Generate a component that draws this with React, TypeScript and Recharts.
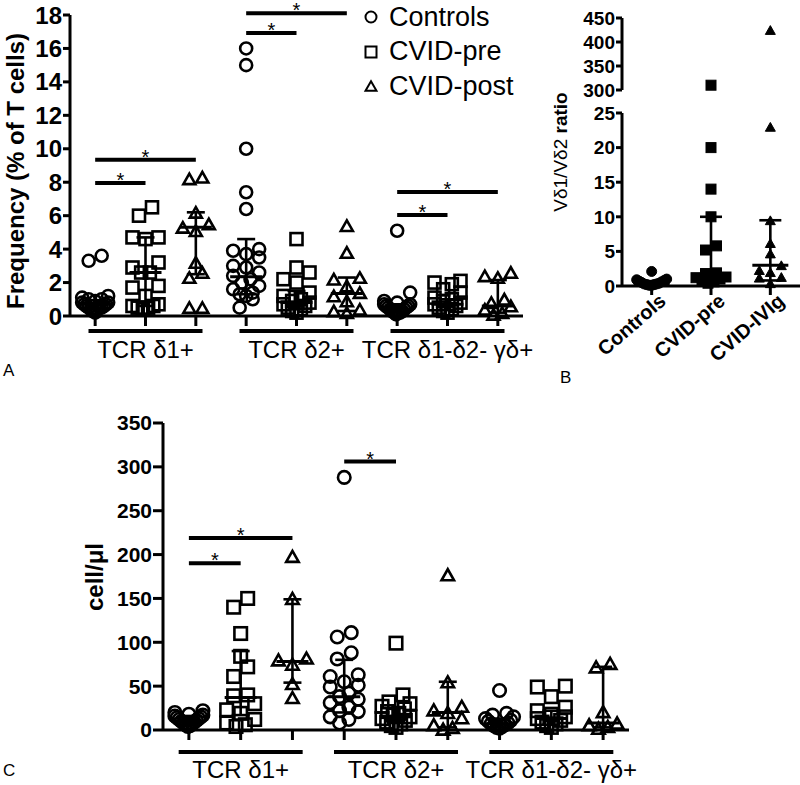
import React from 'react';
import { ScatterChart, Scatter, XAxis, YAxis, ErrorBar, ReferenceLine } from 'recharts';

const FONT = '"Liberation Sans", Arial, Helvetica, sans-serif';

// ---------- categories ----------
const cohortsA = ['Controls', 'CVID-pre', 'CVID-post'];
const cohortsB = ['Controls', 'CVID-pre', 'CVID-IVIg'];
const subsets = ['TCR δ1+', 'TCR δ2+', 'TCR δ1-δ2- γδ+'];
const colTicks = [0, 1, 2, 3, 4, 5, 6, 7, 8];

// ---------- Panel A : frequency (% of T cells) ----------
const freqCtrlD1 = [3.6, 3.3, 1.2, 1.1, 1.0, 1.0, 0.9, 0.8, 0.8, 0.7, 0.7, 0.6, 0.6, 0.5, 0.5, 0.5, 0.4, 0.4, 0.3, 0.2];
const freqPreD1 = [6.5, 6.0, 4.7, 4.7, 4.6, 3.2, 2.9, 2.6, 2.6, 1.8, 1.7, 1.2, 0.7, 0.6, 0.6, 0.5, 0.5, 0.4];
const freqPostD1 = [8.3, 8.2, 6.2, 5.5, 5.3, 5.1, 3.2, 2.6, 2.3, 0.5, 0.5];
const freqCtrlD2 = [16.0, 15.0, 10.0, 7.4, 6.4, 4.0, 3.9, 3.7, 3.5, 3.0, 2.9, 2.6, 2.4, 2.2, 2.0, 1.8, 1.6, 1.4, 1.3, 1.2, 1.0, 0.5];
const freqPreD2 = [4.6, 2.9, 2.6, 2.2, 2.0, 1.4, 1.2, 1.0, 0.9, 0.8, 0.7, 0.6, 0.5, 0.4, 0.3, 0.2];
const freqPostD2 = [5.4, 3.8, 2.3, 2.2, 1.8, 1.4, 1.2, 0.9, 0.4, 0.3, 0.2];
const freqCtrlD3 = [5.1, 1.4, 0.9, 0.8, 0.7, 0.7, 0.6, 0.6, 0.5, 0.5, 0.4, 0.4, 0.3, 0.3, 0.2, 0.2, 0.2, 0.1];
const freqPreD3 = [2.1, 2.0, 1.9, 1.6, 1.4, 1.1, 1.0, 0.9, 0.8, 0.7, 0.6, 0.5, 0.4, 0.3, 0.2];
const freqPostD3 = [2.6, 2.4, 2.3, 1.0, 0.8, 0.6, 0.4, 0.2, 0.1];
const medA = [0.7, 2.6, 5.3, 2.35, 0.8, 1.35, 0.4, 0.7, 0.6];
const q1A = [0.45, 0.6, 2.5, 1.3, 0.4, 0.3, 0.25, 0.35, 0.2];
const q3A = [0.95, 4.7, 6.2, 4.6, 1.5, 2.3, 0.7, 1.0, 2.15];
const ticksA = [0, 2, 4, 6, 8, 10, 12, 14, 16, 18];
const sigFromA = [0, 0, 3, 3, 6, 6];
const sigToA = [1, 2, 4, 5, 7, 8];
const sigYA = [7.95, 9.35, 16.93, 18.1, 6.04, 7.42];

// ---------- Panel B : Vd1/Vd2 ratio ----------
const ratioCtrl = [2.1, 1.0, 0.9, 0.8, 0.7, 0.6, 0.5, 0.4, 0.3, 0.3, 0.2, 0.2, 0.1, 0.1];
const ratioPre = [310, 20, 14, 10, 5.8, 5.2, 1.9, 1.8, 1.3, 1.2, 1.0, 0.8, 0.6, 0.4];
const ratioIVIg = [425, 23, 9.5, 6.2, 4.7, 3.0, 2.3, 2.0, 1.3, 1.2, 0.4];
const medB = [0.3, 1.3, 3.0];
const q1B = [0.15, 0.5, 0.8];
const q3B = [0.7, 10, 9.5];
const ticksBLow = [0, 5, 10, 15, 20, 25];
const ticksBHigh = [300, 350, 400, 450];

// ---------- Panel C : cells/ul ----------
const cellCtrlD1 = [22, 20, 18, 17, 16, 15, 14, 13, 12, 11, 10, 9, 8, 7, 6, 5, 4];
const cellPreD1 = [150, 140, 110, 84, 72, 61, 40, 39, 30, 23, 19, 12, 8, 6, 4];
const cellPostD1 = [198, 150, 82, 80, 75, 53, 37];
const cellCtrlD2 = [288, 111, 106, 88, 81, 63, 61, 55, 51, 49, 42, 38, 35, 31, 26, 22, 21, 15, 12, 8];
const cellPreD2 = [99, 40, 32, 30, 27, 24, 21, 19, 17, 15, 13, 11, 9, 7, 5, 3];
const cellPostD2 = [177, 55, 27, 23, 20, 14, 6, 3, 1];
const cellCtrlD3 = [45, 19, 17, 15, 13, 11, 10, 8, 7, 6, 5, 4, 3, 2];
const cellPreD3 = [50, 49, 38, 26, 22, 18, 15, 13, 11, 9, 7, 5, 3];
const cellPostD3 = [76, 72, 21, 8, 6, 4, 2];
const medC = [10, 37, 78, 38, 15, 20, 7, 13, 8];
const q1C = [6, 17, 54, 20, 8, 3, 3, 6, 3];
const q3C = [16, 90, 149, 80, 25, 55, 13, 22, 72];
const ticksC = [0, 50, 100, 150, 200, 250, 300, 350];
const sigFromC = [0, 0, 3];
const sigToC = [1, 2, 4];
const sigYC = [190, 219, 306];

const colsA = [freqCtrlD1, freqPreD1, freqPostD1, freqCtrlD2, freqPreD2, freqPostD2, freqCtrlD3, freqPreD3, freqPostD3];
const colsC = [cellCtrlD1, cellPreD1, cellPostD1, cellCtrlD2, cellPreD2, cellPostD2, cellCtrlD3, cellPreD3, cellPostD3];
const colsB = [ratioCtrl, ratioPre, ratioIVIg];

const kinds = ['circle', 'square', 'triangle'];

// horizontal spreading of overlapping points (layout only, not data)
function swarm(values: number[], ppu: number, d: number, maxOff: number): number[] {
  const order = values.map((_, i) => i).sort((a, b) => values[a] - values[b]);
  const out = new Array(values.length).fill(0);
  let bin: number[] = [];
  const flush = () => {
    const n = bin.length;
    if (!n) return;
    const sp = n > 1 ? Math.min(d, (2 * maxOff) / (n - 1)) : 0;
    const pos = Array.from({ length: n }, (_, j) => (j - (n - 1) / 2) * sp);
    pos.sort((a, b) => Math.abs(a) - Math.abs(b) || a - b);
    bin.forEach((idx, j) => {
      out[idx] = pos[j];
    });
    bin = [];
  };
  let start = -Infinity;
  for (const i of order) {
    const py = values[i] * ppu;
    if (py - start >= d * 0.85) {
      flush();
      start = py;
    }
    bin.push(i);
  }
  flush();
  return out;
}

type Pt = { x: number; y: number; off: number };

function buildSeries(cols: number[][], ppu: number, d: number, maxOff: number, keep: (v: number) => boolean = () => true) {
  const series: Pt[][] = [[], [], []];
  cols.forEach((all, col) => {
    const vals = all.filter(keep);
    const offs = swarm(vals, ppu, d, maxOff);
    vals.forEach((v, i) => series[col % 3].push({ x: col, y: v, off: offs[i] }));
  });
  return series;
}

function buildSummary(med: number[], q1: number[], q3: number[]) {
  return med.map((m, i) => ({ x: i, y: m, iqr: [m - q1[i], q3[i] - m] }));
}

function Marker({ kind, x, y, size, filled, sw }: { kind: string; x: number; y: number; size: number; filled: boolean; sw: number }) {
  const r = size / 2;
  const common = { stroke: '#000', strokeWidth: sw, fill: filled ? '#000' : 'none' };
  if (kind === 'circle') return <circle cx={x} cy={y} r={r} {...common} />;
  if (kind === 'square') return <rect x={x - r} y={y - r} width={size} height={size} {...common} />;
  const h = size * 0.88;
  return <polygon points={`${x - r},${y + h / 2} ${x + r},${y + h / 2} ${x},${y - h / 2}`} {...common} strokeLinejoin="miter" />;
}

const markerShape = (kind: string, size: number, filled: boolean, sw: number) => (p: any) => (
  <Marker kind={kind} x={p.cx + (p.payload?.off ?? 0)} y={p.cy} size={size} filled={filled} sw={sw} />
);

const medianShape = (half: number) => (p: any) => (
  <line x1={p.cx - half} x2={p.cx + half} y1={p.cy} y2={p.cy} stroke="#000" strokeWidth={3} />
);

const starLabel = (props: any) => {
  const vb = props.viewBox || {};
  const cx = (vb.x ?? 0) + (vb.width ?? 0) / 2;
  return (
    <text x={cx} y={(vb.y ?? 0) + 4} textAnchor="middle" fontSize={20} fontFamily={FONT} fill="#000">
      *
    </text>
  );
};

const groupTick = (lineDy: number, textDy: number, halfLen: number, fontSize: number) => (props: any) => {
  const { x, y, payload } = props;
  const col = payload.value;
  if (col % 3 !== 1) return <g />;
  return (
    <g>
      <line x1={x - halfLen} x2={x + halfLen} y1={y + lineDy} y2={y + lineDy} stroke="#000" strokeWidth={4} />
      <text x={x} y={y + textDy} textAnchor="middle" fontSize={fontSize} fontFamily={FONT} fill="#000">
        {subsets[(col - 1) / 3]}
      </text>
    </g>
  );
};

const bTick = (props: any) => {
  const { x, y, payload } = props;
  const ax = x + 6;
  const ay = y - 3;
  return (
    <text x={ax} y={ay} dy="0.72em" textAnchor="end" fontSize={20} fontWeight="bold" fontFamily={FONT} fill="#000" transform={`rotate(-41, ${ax}, ${ay})`}>
      {cohortsB[payload.value]}
    </text>
  );
};

const axisStyle = { stroke: '#000', strokeWidth: 3 };

function RotLabel({ children, cx, cy, size, weight = 700 }: { children: React.ReactNode; cx: number; cy: number; size: number; weight?: number }) {
  return (
    <div
      style={{
        position: 'absolute',
        left: cx,
        top: cy,
        transform: 'translate(-50%, -50%) rotate(-90deg)',
        fontSize: size,
        fontWeight: weight,
        whiteSpace: 'nowrap',
        lineHeight: 1,
      }}
    >
      {children}
    </div>
  );
}

export default function App() {
  const seriesA = buildSeries(colsA, 301 / 18, 13, 13);
  const summaryA = buildSummary(medA, q1A, q3A);
  const seriesC = buildSeries(colsC, 307 / 350, 14, 14);
  const summaryC = buildSummary(medC, q1C, q3C);
  const seriesBLow = buildSeries(colsB, 173 / 25, 11, 15, (v) => v <= 25);
  const seriesBHigh = buildSeries(colsB, 72 / 150, 11, 15, (v) => v > 25);
  const summaryB = buildSummary(medB, q1B, q3B);

  const yTickA = { fill: '#000', fontSize: 24, fontWeight: 700, fontFamily: FONT };
  const yTickC = { fill: '#000', fontSize: 21, fontWeight: 700, fontFamily: FONT };
  const yTickB = { fill: '#000', fontSize: 19, fontWeight: 700, fontFamily: FONT };

  return (
    <div style={{ position: 'absolute', left: 0, top: 0, width: 800, height: 785, background: '#fff', fontFamily: FONT, color: '#000', overflow: 'hidden' }}>
      {/* Panel A */}
      <div style={{ position: 'absolute', left: 0, top: 0 }}>
        <ScatterChart width={560} height={380} margin={{ top: 15, right: 37, left: 0, bottom: 0 }}>
          <XAxis type="number" dataKey="x" domain={[-0.5, 8.5]} ticks={colTicks} interval={0} height={64} tickSize={10} tickMargin={0} axisLine={axisStyle} tickLine={axisStyle} tick={groupTick(5, 32, 57, 24)} />
          <YAxis type="number" dataKey="y" domain={[0, 18]} ticks={ticksA} interval={0} width={70} tickSize={7} tickMargin={1} axisLine={axisStyle} tickLine={axisStyle} tick={yTickA} />
          {sigYA.map((y, i) => (
            <ReferenceLine key={`sa${i}`} segment={[{ x: sigFromA[i], y }, { x: sigToA[i], y }]} stroke="#000" strokeWidth={4} ifOverflow="visible" label={starLabel} />
          ))}
          {seriesA.map((data, k) => (
            <Scatter key={`a${k}`} data={data} shape={markerShape(kinds[k], 12, false, 2.6)} isAnimationActive={false} />
          ))}
          <Scatter data={summaryA} shape={medianShape(16)} isAnimationActive={false}>
            <ErrorBar dataKey="iqr" direction="y" width={9} stroke="#000" strokeWidth={2.6} isAnimationActive={false} />
          </Scatter>
        </ScatterChart>
      </div>
      <RotLabel cx={16} cy={171} size={24}>Frequency (% of T cells)</RotLabel>
      {/* Legend A */}
      {cohortsA.map((c, k) => (
        <div key={c} style={{ position: 'absolute', left: 361, top: k * 34.5, height: 34, display: 'flex', alignItems: 'center', whiteSpace: 'nowrap', fontSize: 27 }}>
          <svg width={20} height={20} style={{ display: 'block' }}>
            <Marker kind={kinds[k]} x={10} y={10} size={11} filled={false} sw={2} />
          </svg>
          <span style={{ marginLeft: 8 }}>{c}</span>
        </div>
      ))}
      <div style={{ position: 'absolute', left: 3, top: 362, fontSize: 17, lineHeight: '17px' }}>A</div>

      {/* Panel B upper (broken axis) */}
      <div style={{ position: 'absolute', left: 540, top: 0 }}>
        <ScatterChart width={260} height={100} margin={{ top: 18, right: 0, left: 0, bottom: 10 }}>
          <XAxis type="number" dataKey="x" domain={[-0.5, 2.5]} hide height={0} />
          <YAxis type="number" dataKey="y" domain={[300, 450]} ticks={ticksBHigh} interval={0} width={82} tickSize={6} tickMargin={1} axisLine={axisStyle} tickLine={axisStyle} tick={yTickB} />
          {seriesBHigh.map((data, k) => (
            <Scatter key={`bh${k}`} data={data} shape={markerShape(kinds[k], 10, true, 1)} isAnimationActive={false} />
          ))}
        </ScatterChart>
      </div>
      {/* Panel B lower */}
      <div style={{ position: 'absolute', left: 540, top: 100 }}>
        <ScatterChart width={260} height={290} margin={{ top: 13, right: 0, left: 0, bottom: 0 }}>
          <XAxis type="number" dataKey="x" domain={[-0.5, 2.5]} ticks={[0, 1, 2]} interval={0} height={104} tickSize={9} tickMargin={0} axisLine={axisStyle} tickLine={axisStyle} tick={bTick} />
          <YAxis type="number" dataKey="y" domain={[0, 25]} ticks={ticksBLow} interval={0} width={82} tickSize={6} tickMargin={1} axisLine={axisStyle} tickLine={axisStyle} tick={yTickB} />
          {seriesBLow.map((data, k) => (
            <Scatter key={`bl${k}`} data={data} shape={markerShape(kinds[k], 10, true, 1)} isAnimationActive={false} />
          ))}
          <Scatter data={summaryB} shape={medianShape(18)} isAnimationActive={false}>
            <ErrorBar dataKey="iqr" direction="y" width={11} stroke="#000" strokeWidth={2.6} isAnimationActive={false} />
          </Scatter>
        </ScatterChart>
      </div>
      <RotLabel cx={560} cy={152} size={19} weight={400}>
        Vδ1/Vδ2 <span style={{ fontWeight: 700 }}>ratio</span>
      </RotLabel>
      <div style={{ position: 'absolute', left: 560, top: 369, fontSize: 17, lineHeight: '17px' }}>B</div>

      {/* Panel C */}
      <div style={{ position: 'absolute', left: 0, top: 400 }}>
        <ScatterChart width={660} height={385} margin={{ top: 23, right: 31, left: 0, bottom: 0 }}>
          <XAxis type="number" dataKey="x" domain={[-0.5, 8.5]} ticks={colTicks} interval={0} height={55} tickSize={10} tickMargin={0} axisLine={axisStyle} tickLine={axisStyle} tick={groupTick(12, 38, 62, 24)} />
          <YAxis type="number" dataKey="y" domain={[0, 350]} ticks={ticksC} interval={0} width={163} tickSize={10} tickMargin={1} axisLine={axisStyle} tickLine={axisStyle} tick={yTickC} />
          {sigYC.map((y, i) => (
            <ReferenceLine key={`sc${i}`} segment={[{ x: sigFromC[i], y }, { x: sigToC[i], y }]} stroke="#000" strokeWidth={4} ifOverflow="visible" label={starLabel} />
          ))}
          {seriesC.map((data, k) => (
            <Scatter key={`c${k}`} data={data} shape={markerShape(kinds[k], 12.5, false, 2.6)} isAnimationActive={false} />
          ))}
          <Scatter data={summaryC} shape={medianShape(16)} isAnimationActive={false}>
            <ErrorBar dataKey="iqr" direction="y" width={9} stroke="#000" strokeWidth={2.6} isAnimationActive={false} />
          </Scatter>
        </ScatterChart>
      </div>
      <RotLabel cx={95} cy={577} size={24}>cell/μl</RotLabel>
      <div style={{ position: 'absolute', left: 3, top: 762, fontSize: 17, lineHeight: '17px' }}>C</div>
    </div>
  );
}
